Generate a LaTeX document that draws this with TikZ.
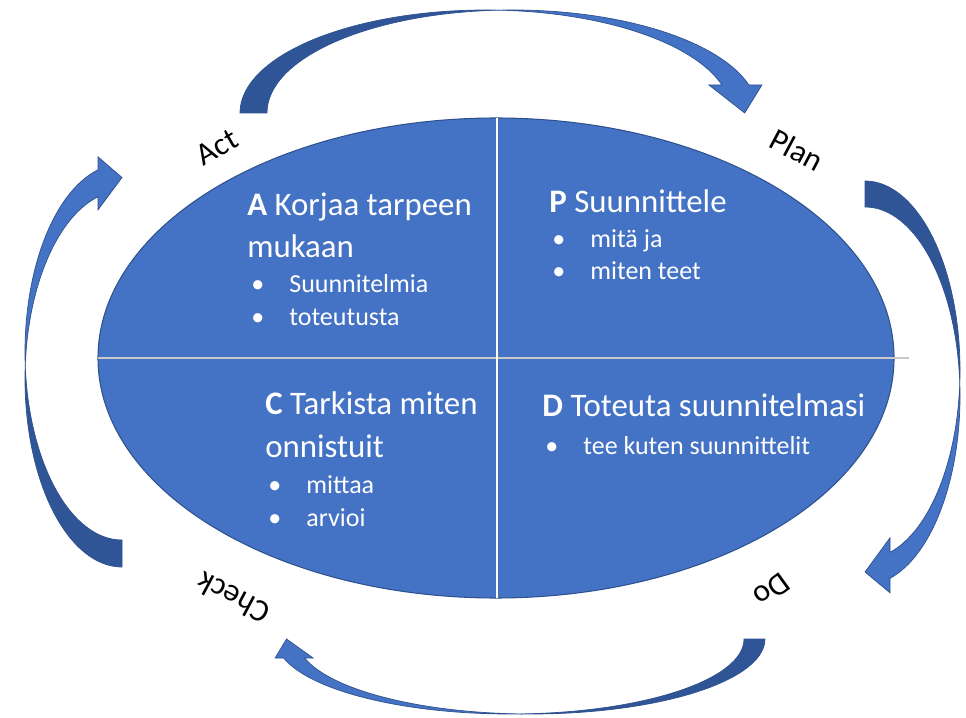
\documentclass[tikz,border=0pt]{standalone}
\usepackage{fontspec}
\setmainfont{Carlito}

\definecolor{pdcablue}{HTML}{4472C4}
\definecolor{pdcadark}{HTML}{2F5597}
\definecolor{pdcaedge}{HTML}{2F528F}
\definecolor{pdcaline}{HTML}{C9C9C9}

% curved arrow: tail corner, rotation, width, radius, bulge, head depth, head half width
\newcommand{\cyclearrow}[7]{%
\begin{scope}[shift={#1}, rotate=#2]
  \pgfmathsetmacro{\tang}{acos(#3/(2*#4))}
  \pgfmathsetmacro{\bang}{180-\tang}
  \pgfmathsetmacro{\hang}{asin(#6/#5)}
  \pgfmathsetmacro{\pxa}{#4+#4*cos(\hang)}
  \pgfmathsetmacro{\pxb}{\pxa+#3}
  \pgfmathsetmacro{\pxm}{\pxa+#3/2}
  \pgfmathsetmacro{\pxt}{2*#4+#3/2}
  \pgfmathsetmacro{\pyi}{#5*sin(\tang)}
  \filldraw[arrowback] (0,0)
    arc[start angle=180, end angle=\tang, x radius=#4, y radius=#5]
    arc[start angle=\bang, end angle=180, x radius=#4, y radius=#5] -- cycle;
  \filldraw[arrowfront] (#4+#3/2,\pyi)
    arc[start angle=\bang, end angle=\hang, x radius=#4, y radius=#5]
    -- (\pxm+#7,#6) -- (\pxt,0) -- (\pxm-#7,#6) -- (\pxa,#6)
    arc[start angle=\hang, end angle=\tang, x radius=#4, y radius=#5] -- cycle;
\end{scope}}

\newcommand{\bul}[1]{\makebox[0.76cm][l]{•}#1}

\begin{document}
\begin{tikzpicture}[x=0.02cm, y=0.02cm,
  arrowback/.style={fill=pdcadark, draw=pdcaedge, line width=0.4pt},
  arrowfront/.style={fill=pdcablue, draw=pdcaedge, line width=0.4pt},
  phase/.style={inner sep=0pt, text=black, font=\fontsize{18}{20}\selectfont},
  heading/.style={anchor=base west, inner sep=0pt, text=white, font=\fontsize{18.7}{22}\selectfont},
  item/.style={anchor=base west, inner sep=0pt, text=white, font=\fontsize{14.8}{17}\selectfont},
]
\path[use as bounding box, fill=white] (0,0) rectangle (966,717);

% the four quarters
\coordinate (O) at (496,359);
\filldraw[fill=pdcablue, draw=pdcaedge, line width=0.6pt] (O) ellipse [x radius=398, y radius=240];
\draw[pdcaline, line width=0.7pt] (98,359) -- (909,359);
\draw[white, line width=0.6pt] (497,119) -- (497,599);

% arrows round the cycle
\cyclearrow{(240,604)}{0}{27}{245.6}{103}{28}{26.5}
\cyclearrow{(865,536)}{-90}{26}{189}{95}{25}{27.5}
\cyclearrow{(765,78)}{180}{21}{234}{75}{19}{19}
\cyclearrow{(122,150)}{90}{27}{188}{97}{24}{26.5}

\node[phase, rotate=30]   (act)   at (217,570) {Act};
\node[phase, rotate=-28]  (plan)  at (797,567) {Plan};
\node[phase, rotate=-144] (do)    at (772,127) {Do};
\node[phase, rotate=152]  (check) at (233,119) {Check};

% A
\node[heading] (A1) at (247,501) {\textbf{A} Korjaa tarpeen};
\node[heading] (A2) at (247,459) {mukaan};
\node[item] (A3) at (251,424) {\bul{Suunnitelmia}};
\node[item] (A4) at (251,391) {\bul{toteutusta}};

% P
\node[heading] (P1) at (549,504) {\textbf{P} Suunnittele};
\node[item] (P2) at (552,469) {\bul{mitä ja}};
\node[item] (P3) at (552,437) {\bul{miten teet}};

% C
\node[heading] (C1) at (265,302) {\textbf{C} Tarkista miten};
\node[heading] (C2) at (265,259) {onnistuit};
\node[item] (C3) at (268,224) {\bul{mittaa}};
\node[item] (C4) at (268,191) {\bul{arvioi}};

% D
\node[heading] (D1) at (542,300) {\textbf{D} Toteuta suunnitelmasi};
\node[item] (D2) at (545,263) {\bul{tee kuten suunnittelit}};
\end{tikzpicture}
\end{document}
